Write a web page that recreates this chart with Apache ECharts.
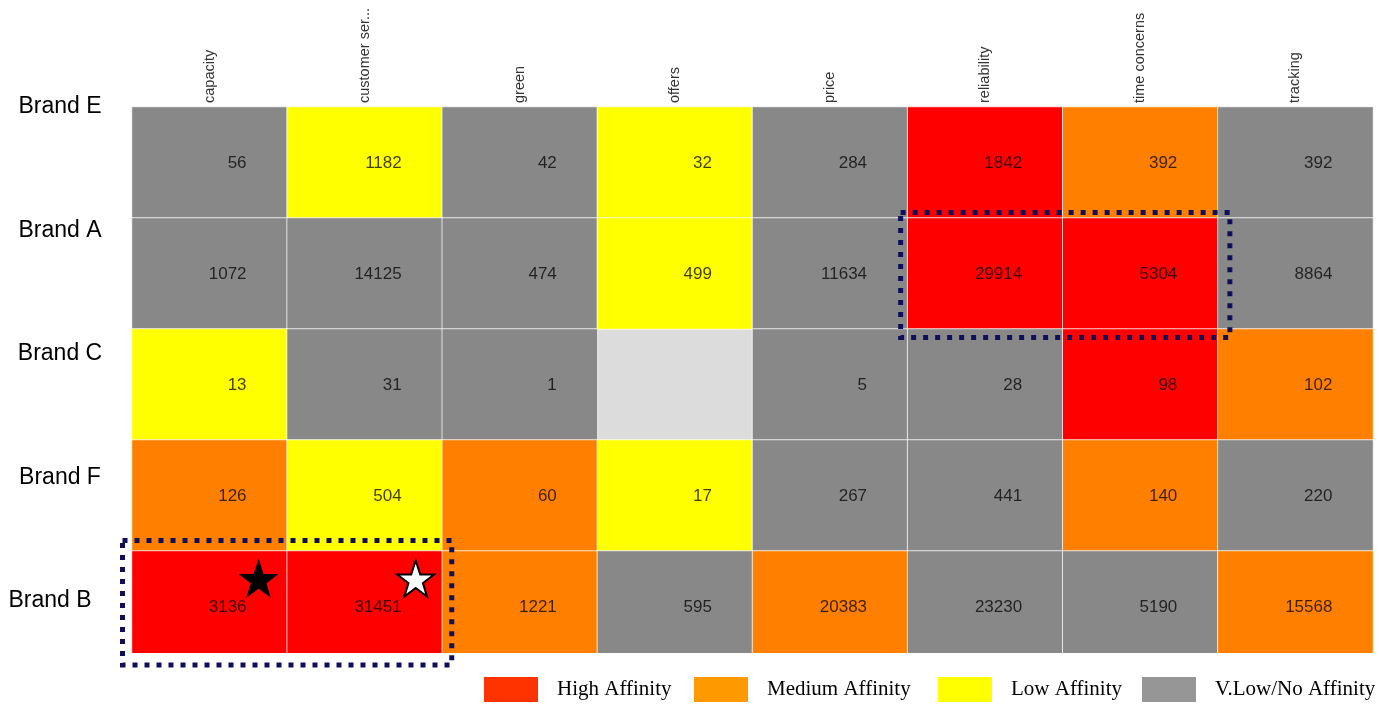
<!DOCTYPE html>
<html>
<head>
<meta charset="utf-8">
<script src="https://cdn.jsdelivr.net/npm/echarts@6/dist/echarts.min.js"></script>
<style>
html,body{margin:0;padding:0;background:#fff;}
#c{width:1379px;height:705px;}
</style>
</head>
<body>
<div id="c"></div>
<script>
// ---- data ----
const topics = ['capacity','customer ser...','green','offers','price','reliability','time concerns','tracking'];
const brands = ['Brand E','Brand A','Brand C','Brand F','Brand B'];
const valuesE = [56, 1182, 42, 32, 284, 1842, 392, 392];
const valuesA = [1072, 14125, 474, 499, 11634, 29914, 5304, 8864];
const valuesC = [13, 31, 1, null, 5, 28, 98, 102];
const valuesF = [126, 504, 60, 17, 267, 441, 140, 220];
const valuesB = [3136, 31451, 1221, 595, 20383, 23230, 5190, 15568];
const levelsE = ['V','L','V','L','V','H','M','V'];
const levelsA = ['V','V','V','L','V','H','H','V'];
const levelsC = ['L','V','V', null,'V','V','H','M'];
const levelsF = ['M','L','M','L','V','V','M','V'];
const levelsB = ['H','H','M','V','M','V','V','M'];
const legendNames = ['High Affinity','Medium Affinity','Low Affinity','V.Low/No Affinity'];
// ----------------

const rowValues = [valuesE, valuesA, valuesC, valuesF, valuesB];
const rowLevels = [levelsE, levelsA, levelsC, levelsF, levelsB];
const cellColor = {H:'#ff0000', M:'#ff8000', L:'#ffff00', V:'#888888'};
const legendColor = ['#ff3300','#ff9900','#ffff00','#969696'];

const heatData = [];
rowValues.forEach((row, yi) => {
  row.forEach((v, xi) => {
    if (v === null) return;
    heatData.push({value:[xi, yi, v], itemStyle:{color: cellColor[rowLevels[yi][xi]]}});
  });
});

const starPath = 'path://M50,0 L61.8,35.1 L98.1,35.1 L68.8,56.7 L79.4,90.5 L50,69.1 L20.6,90.5 L31.2,56.7 L1.9,35.1 L38.2,35.1 Z';

const GL = 132, GT = 107, GW = 1241, GH = 555;

const chart = echarts.init(document.getElementById('c'), null, {renderer:'canvas'});

const legendLefts = [484, 694, 938, 1142];
const legends = legendNames.map((n, i) => ({
  data:[n], left: legendLefts[i], top: 677, padding: 0,
  icon:'rect', itemWidth: 54, itemHeight: 25,
  selectedMode: false,
  textStyle:{fontFamily:'Liberation Serif', fontSize: 21, color:'#000', padding:[2,0,0,14]}
}));

const option = {
  animation:false,
  backgroundColor:'#fff',
  grid:[
    {left:GL, top:GT, width:GW, height:GH, show:true, backgroundColor:'#dcdcdc', borderWidth:0},
    {left:120, top:45.25, width:10, height:617.5, show:false}
  ],
  legend: legends,
  xAxis:[
    {type:'category', gridIndex:0, data:topics, position:'top',
     axisLine:{show:false}, axisTick:{show:false}, splitArea:{show:false},
     axisLabel:{rotate:-90, margin:4, padding:[6,0,0,0], fontFamily:'Liberation Sans', fontSize:14.5, color:'#333', interval:0}},
    {type:'value', gridIndex:1, show:false}
  ],
  yAxis:[
    {type:'category', gridIndex:0, data:brands, inverse:true,
     axisLine:{show:false}, axisTick:{show:false}, axisLabel:{show:false}, splitArea:{show:false}},
    {type:'category', gridIndex:1, inverse:true,
     data: brands,
     axisLine:{show:false}, axisTick:{show:false},
     axisLabel:{align:'center', margin:60, fontFamily:'Liberation Sans', fontSize:23, color:'#000',
       formatter: (v, i) => i === brands.length - 1 ? '{b|' + v + '}' : '{a|' + v + '}',
       rich:{a:{fontFamily:'Liberation Sans', fontSize:23, color:'#000'},
             b:{fontFamily:'Liberation Sans', fontSize:23, color:'#000', padding:[0,20,0,0]}}}}
  ],
  series:[
    {type:'heatmap', xAxisIndex:0, yAxisIndex:0, data:heatData,
     itemStyle:{borderColor:'rgba(255,255,255,0.75)', borderWidth:1},
     label:{show:true, position:'inside', align:'right', offset:[37,1],
            fontFamily:'Liberation Sans', fontSize:17, color:'rgba(0,0,0,0.75)',
            formatter: p => String(p.value[2])},
     emphasis:{disabled:true}},
    {type:'scatter', xAxisIndex:0, yAxisIndex:0, z:10, symbol:starPath,
     data:[
       {value:[0,4], symbolSize:[37,36], symbolOffset:[49,-28], itemStyle:{color:'#000', borderColor:'#000', borderWidth:1, opacity:1}},
       {value:[1,4], symbolSize:[37,36], symbolOffset:[51,-28], itemStyle:{color:'#fff', borderColor:'#000', borderWidth:2, opacity:1}}
     ], silent:true},
    ...legendNames.map((n, i) => ({type:'scatter', name:n, data:[], itemStyle:{color:legendColor[i], opacity:1}}))
  ]
};
chart.setOption(option);

// annotation boxes computed from cell positions
const cw = GW / topics.length, ch = GH / brands.length;
function cellRect(xi, yi){
  const c = chart.convertToPixel({gridIndex:0}, [xi, yi]);
  return {l:c[0]-cw/2, r:c[0]+cw/2, t:c[1]-ch/2, b:c[1]+ch/2};
}
const a1 = cellRect(5,1), a2 = cellRect(6,1);
const b1 = cellRect(0,4), b2 = cellRect(1,4);
const dash = {stroke:'#0f0f5c', lineWidth:5, lineDash:[5,7], fill:null};
chart.setOption({
  graphic:[
    {type:'rect', z:50, silent:true, shape:{x:GL-2, y:GT+GH-9, width:GW+4, height:12}, style:{fill:'#fff'}},
    {type:'rect', z:60, silent:true,
     shape:{x:a1.l-7, y:a1.t-5.5, width:(a2.r+12)-(a1.l-7), height:(a1.b+8.5)-(a1.t-5.5)}, style:dash},
    {type:'rect', z:60, silent:true,
     shape:{x:b1.l-9.5, y:b1.t-10.5, width:(b2.r+9.5)-(b1.l-9.5), height:(b1.b+3)-(b1.t-10.5)}, style:dash}
  ]
});
</script>
</body>
</html>
